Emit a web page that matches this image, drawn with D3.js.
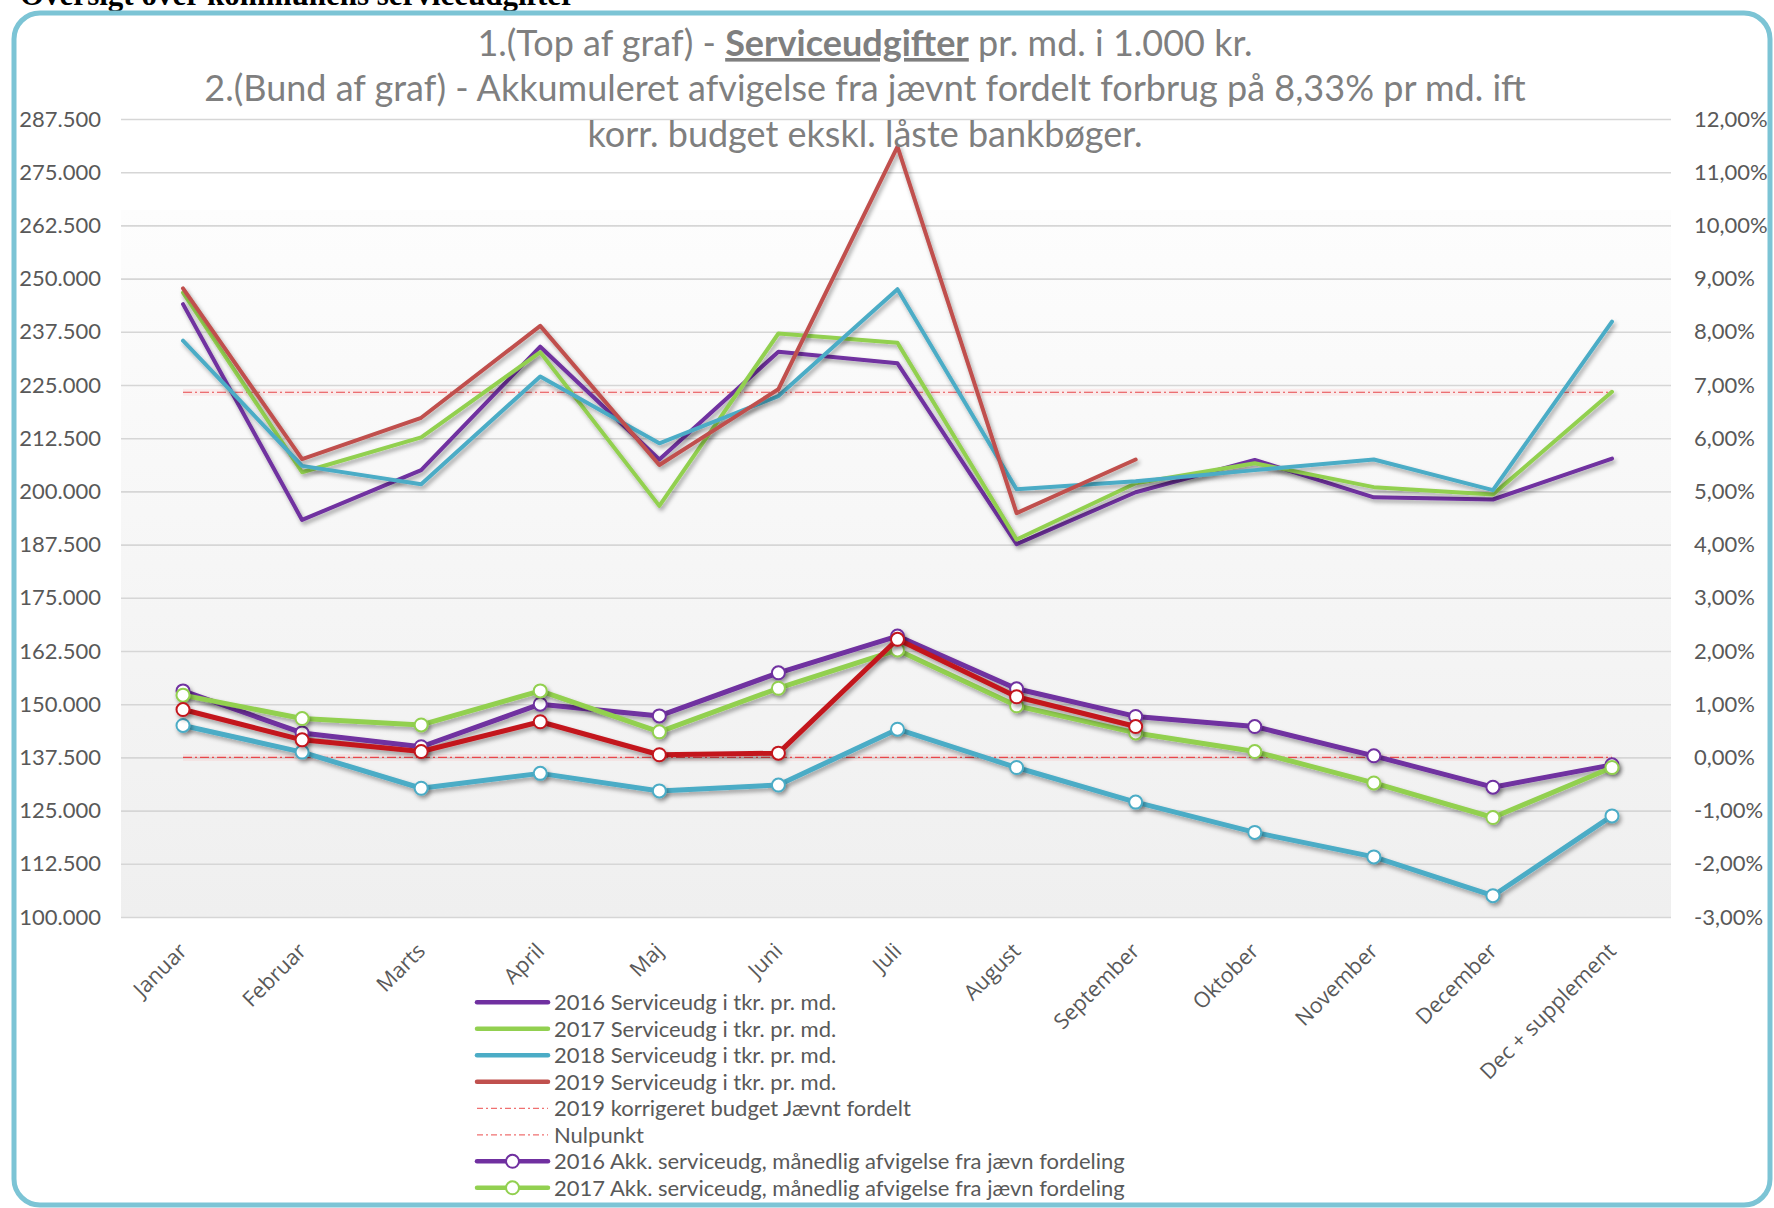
<!DOCTYPE html>
<html>
<head>
<meta charset="utf-8">
<script src="https://cdn.jsdelivr.net/npm/d3@7"></script>
<style>
body { margin: 0; background: #fff; }
svg { display: block; }
</style>
</head>
<body>
<svg width="1774" height="1208"></svg>
<script>
const svg = d3.select("svg");

// categories
const months = ["Januar", "Februar", "Marts", "April", "Maj", "Juni", "Juli",
    "August", "September", "Oktober", "November", "December", "Dec + supplement"];

// top of graph: service expenses per month (1.000 kr)
const service2016 = [244000, 193300, 205000, 234000, 207500, 232800, 230100, 187600, 199800, 207400, 198600, 198100, 207700];
const service2017 = [246700, 204500, 212700, 232700, 196600, 237100, 234900, 188700, 201900, 206600, 201000, 199300, 223400];
const service2018 = [235400, 206000, 201700, 227000, 211300, 222400, 247500, 200500, 202400, 205000, 207500, 200300, 239900];
const service2019 = [247700, 207600, 217300, 238900, 206200, 224000, 281000, 194900, 207500, null, null, null, null];
const budget2019 = [223300, 223300, 223300, 223300, 223300, 223300, 223300, 223300, 223300, 223300, 223300, 223300, 223300];

// bottom of graph: accumulated deviation (right axis, %)
const akk2016 = [0.0125, 0.0046, 0.0020, 0.0100, 0.0078, 0.0159, 0.0228, 0.0129, 0.0077, 0.0058, 0.0003, -0.0056, -0.0014];
const akk2017 = [0.0117, 0.0073, 0.0061, 0.0125, 0.0048, 0.0130, 0.0202, 0.0097, 0.0046, 0.0011, -0.0048, -0.0113, -0.0019];
const akk2018 = [0.0060, 0.0010, -0.0058, -0.0030, -0.0063, -0.0052, 0.0053, -0.0019, -0.0084, -0.0141, -0.0187, -0.0260, -0.0110];
const akk2019 = [0.0090, 0.0033, 0.0011, 0.0067, 0.0005, 0.0008, 0.0222, 0.0114, 0.0058, null, null, null, null];
const nulpunkt = [0, 0, 0, 0, 0, 0, 0, 0, 0, 0, 0, 0, 0];

// tick labels
const leftTicks = [100000, 112500, 125000, 137500, 150000, 162500, 175000, 187500,
    200000, 212500, 225000, 237500, 250000, 262500, 275000, 287500];
const rightTicks = [-3, -2, -1, 0, 1, 2, 3, 4, 5, 6, 7, 8, 9, 10, 11, 12].map(d => d / 100);

const purple = "#7030a0", green = "#92d050", blue = "#4bacc6", red = "#c0504d", darkRed = "#c3161f";

const da = d3.formatLocale({decimal: ",", thousands: ".", grouping: [3], currency: ["", " kr."], minus: "-"});
const fmtLeft = da.format(",.0f");
const fmtRight = da.format(".2%");

const plotLeft = 121, plotRight = 1671, plotTop = 119, plotBottom = 917;

const x = d3.scalePoint().domain(months).range([183, 1612]);
const yLeft = d3.scaleLinear().domain([100000, 287500]).range([plotBottom, plotTop]);
const yRight = d3.scaleLinear().domain([-0.03, 0.12]).range([plotBottom, plotTop]);

const defs = svg.append("defs");
const grad = defs.append("linearGradient").attr("id", "plotbg")
    .attr("x1", 0).attr("y1", 0).attr("x2", 0).attr("y2", 1);
grad.append("stop").attr("offset", "0%").attr("stop-color", "#fdfdfd");
grad.append("stop").attr("offset", "100%").attr("stop-color", "#efefef");

defs.append("filter").attr("id", "shadow")
    .attr("filterUnits", "userSpaceOnUse")
    .attr("x", 0).attr("y", 0).attr("width", 1774).attr("height", 1208)
    .append("feDropShadow")
    .attr("dx", 2).attr("dy", 3).attr("stdDeviation", 2)
    .attr("flood-color", "#000").attr("flood-opacity", 0.35);

// heading above the chart, mostly cut off like in the source
svg.append("text")
    .attr("x", 20).attr("y", 5)
    .style("font-family", "'Liberation Serif', serif")
    .style("font-weight", "bold")
    .style("font-size", "31px")
    .attr("fill", "#000")
    .text("Oversigt over kommunens serviceudgifter");

// chart frame
svg.append("rect")
    .attr("x", 14).attr("y", 13).attr("width", 1756).attr("height", 1192)
    .attr("rx", 26)
    .attr("fill", "none").attr("stroke", "#7cc4d5").attr("stroke-width", 5);

// plot background
svg.append("rect")
    .attr("x", plotLeft).attr("y", 210)
    .attr("width", plotRight - plotLeft).attr("height", plotBottom - 210)
    .attr("fill", "url(#plotbg)");

// gridlines
const grid = svg.append("g")
    .attr("transform", `translate(${plotLeft},0)`)
    .call(d3.axisRight(yLeft).tickValues(leftTicks).tickSize(plotRight - plotLeft).tickFormat(""));
grid.select(".domain").remove();
grid.selectAll("line").attr("stroke", "#d6d6d6").attr("stroke-width", 1.6);

// left axis labels
const leftAxis = svg.append("g")
    .attr("transform", "translate(101,0)")
    .call(d3.axisLeft(yLeft).tickValues(leftTicks).tickFormat(fmtLeft).tickSize(0).tickPadding(0));
leftAxis.select(".domain").remove();
leftAxis.selectAll("text")
    .style("font-family", "Lato, sans-serif").style("font-size", "22px").attr("fill", "#595959");

// right axis labels
const rightAxis = svg.append("g")
    .attr("transform", "translate(1694,0)")
    .call(d3.axisRight(yRight).tickValues(rightTicks).tickFormat(fmtRight).tickSize(0).tickPadding(0));
rightAxis.select(".domain").remove();
rightAxis.selectAll("text")
    .style("font-family", "Lato, sans-serif").style("font-size", "22px").attr("fill", "#595959");

// category labels, rotated
svg.append("g").selectAll("text")
    .data(months)
    .join("text")
    .attr("transform", d => `translate(${x(d)},947) rotate(-45)`)
    .attr("text-anchor", "end")
    .attr("dy", "0.35em")
    .style("font-family", "'Open Sans', sans-serif")
    .style("font-size", "21.5px")
    .attr("fill", "#595959")
    .text(d => d);

// reference lines (budget and zero point)
function refLine(values, scale) {
    const line = d3.line()
        .x((d, i) => x(months[i]))
        .y(d => scale(d));
    svg.append("path").attr("d", line(values))
        .attr("fill", "none").attr("stroke", "#ff5a5a").attr("stroke-opacity", 0.09).attr("stroke-width", 7);
    svg.append("path").attr("d", line(values))
        .attr("fill", "none").attr("stroke", "#e8474b").attr("stroke-width", 1.2)
        .attr("stroke-dasharray", "9,3,2,3");
}
refLine(budget2019, yLeft);
refLine(nulpunkt, yRight);

function drawLine(values, scale, color, width) {
    const line = d3.line()
        .defined(d => d != null)
        .x((d, i) => x(months[i]))
        .y(d => scale(d));
    svg.append("path")
        .attr("d", line(values))
        .attr("fill", "none")
        .attr("stroke", color)
        .attr("stroke-width", width)
        .attr("stroke-linejoin", "round")
        .attr("stroke-linecap", "round")
        .attr("filter", "url(#shadow)");
}

drawLine(service2016, yLeft, purple, 4);
drawLine(service2017, yLeft, green, 4);
drawLine(service2018, yLeft, blue, 4);
drawLine(service2019, yLeft, red, 4);

function drawAkk(values, color) {
    drawLine(values, yRight, color, 5);
    const pts = values.map((v, i) => [months[i], v]).filter(d => d[1] != null);
    svg.append("g")
        .attr("filter", "url(#shadow)")
        .selectAll("circle")
        .data(pts)
        .join("circle")
        .attr("cx", d => x(d[0]))
        .attr("cy", d => yRight(d[1]))
        .attr("r", 6.5)
        .attr("fill", "#fff")
        .attr("stroke", color)
        .attr("stroke-width", 2);
}

drawAkk(akk2016, purple);
drawAkk(akk2017, green);
drawAkk(akk2018, blue);
drawAkk(akk2019, darkRed);

// title
const titleFont = "Lato, sans-serif";
const t1 = svg.append("text")
    .attr("x", 865).attr("y", 56).attr("text-anchor", "middle")
    .style("font-family", titleFont).style("font-size", "36px").attr("fill", "#7f7f7f");
t1.append("tspan").text("1.(Top af graf) - ");
t1.append("tspan").style("font-weight", "bold").style("text-decoration", "underline").text("Serviceudgifter");
t1.append("tspan").text(" pr. md. i 1.000 kr.");

const titleLines = [
    "2.(Bund af graf) - Akkumuleret afvigelse fra jævnt fordelt forbrug på 8,33% pr md. ift",
    "korr. budget ekskl. låste bankbøger."
];
svg.append("g").selectAll("text")
    .data(titleLines)
    .join("text")
    .attr("x", 865)
    .attr("y", (d, i) => 101 + i * 46)
    .attr("text-anchor", "middle")
    .style("font-family", titleFont).style("font-size", "36px").attr("fill", "#7f7f7f")
    .text(d => d);

// legend (only the visible entries)
const legendItems = [
    {name: "2016 Serviceudg i tkr. pr. md.", color: purple, type: "line"},
    {name: "2017 Serviceudg i tkr. pr. md.", color: green, type: "line"},
    {name: "2018 Serviceudg i tkr. pr. md.", color: blue, type: "line"},
    {name: "2019 Serviceudg i tkr. pr. md.", color: red, type: "line"},
    {name: "2019 korrigeret budget Jævnt fordelt", color: "#f07070", type: "dash"},
    {name: "Nulpunkt", color: "#f07070", type: "dash"},
    {name: "2016 Akk. serviceudg, månedlig afvigelse fra jævn fordeling", color: purple, type: "marker"},
    {name: "2017 Akk. serviceudg, månedlig afvigelse fra jævn fordeling", color: green, type: "marker"}
];

const legend = svg.append("g").selectAll("g")
    .data(legendItems)
    .join("g")
    .attr("transform", (d, i) => `translate(477,${1002.3 + i * 26.5})`);

legend.append("line")
    .attr("x1", 0).attr("x2", 71).attr("y1", 0).attr("y2", 0)
    .attr("stroke", d => d.color)
    .attr("stroke-width", d => d.type == "dash" ? 1.2 : 4.5)
    .attr("stroke-dasharray", d => d.type == "dash" ? "6,3,2,3" : null)
    .attr("stroke-linecap", d => d.type == "dash" ? "butt" : "round");

legend.filter(d => d.type == "marker")
    .append("circle")
    .attr("cx", 35.5).attr("cy", 0).attr("r", 6.5)
    .attr("fill", "#fff").attr("stroke", d => d.color).attr("stroke-width", 2);

legend.append("text")
    .attr("x", 77).attr("dy", "0.35em")
    .style("font-family", "Lato, sans-serif").style("font-size", "22px").attr("fill", "#595959")
    .text(d => d.name);
</script>
</body>
</html>
